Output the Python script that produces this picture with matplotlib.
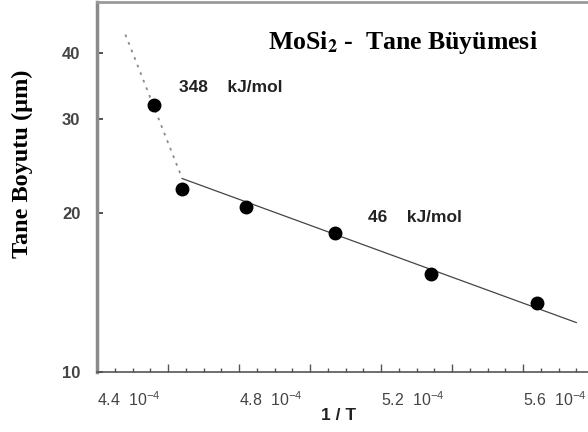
import matplotlib
matplotlib.use("Agg")
import matplotlib.pyplot as plt
from matplotlib.ticker import FixedLocator, NullLocator, MultipleLocator, FixedFormatter

plt.rcParams["mathtext.fontset"] = "custom"
plt.rcParams["mathtext.rm"] = "Liberation Sans"
plt.rcParams["mathtext.bf"] = "Liberation Sans:bold"

# 1/T values (x 10^-4) and grain size (µm)
inv_T = [4.56, 4.64, 4.82, 5.07, 5.34, 5.64]
grain_size = [31.9, 22.2, 20.5, 18.3, 15.3, 13.5]

# fitted segments: high-temperature (348 kJ/mol) and low-temperature (46 kJ/mol)
fit_hi_x = [4.48, 4.64]
fit_hi_y = [43.4, 23.2]
fit_lo_x = [4.64, 5.75]
fit_lo_y = [23.2, 12.4]

x_labels = {4.4: "4.4", 4.8: "4.8", 5.2: "5.2", 5.6: "5.6"}
y_ticks = [10, 20, 30, 40]

fig = plt.figure(figsize=(5.88, 4.32), dpi=100)
ax = fig.add_axes([97 / 588, 60 / 432, (594 - 97) / 588, 370 / 432])

ax.plot(fit_hi_x, fit_hi_y, color="#8a8a8a", lw=1.3, ls=(0, (1.5, 3.0)))
ax.plot(fit_lo_x, fit_lo_y, color="#444444", lw=0.9)
ax.plot(inv_T, grain_size, "o", color="black", ms=9, ls="none")

ax.set_yscale("log")
ax.set_xlim(4.4, 5.8)
ax.set_ylim(10, 50)

ax.yaxis.set_major_locator(FixedLocator(y_ticks))
ax.yaxis.set_minor_locator(NullLocator())
ax.yaxis.set_major_formatter(FixedFormatter([str(v) for v in y_ticks]))

major_x = [4.4 + 0.2 * i for i in range(8)]
ax.xaxis.set_major_locator(FixedLocator(major_x))
ax.xaxis.set_minor_locator(MultipleLocator(0.05))
labels = []
for v in major_x:
    key = round(v, 1)
    labels.append(x_labels[key] + "  10$^{-4}$" if key in x_labels else "")
ax.xaxis.set_major_formatter(FixedFormatter(labels))

ax.tick_params(axis="x", which="major", direction="in", length=6, width=1.0,
               color="#555555", pad=13, labelsize=11.5, labelcolor="#444444")
ax.tick_params(axis="x", which="minor", direction="in", length=3, width=1.0,
               color="#555555")
ax.tick_params(axis="y", which="major", direction="in", length=4, width=1.2,
               color="#333333", pad=12, labelsize=12, labelcolor="#444444")
for lab in ax.get_xticklabels():
    lab.set_horizontalalignment("left")
    lab.set_family("Liberation Sans")
for lab in ax.get_yticklabels():
    lab.set_family("Liberation Sans")
    lab.set_fontweight("bold")

ax.spines["right"].set_visible(False)
ax.spines["left"].set_color("#8a8a8a")
ax.spines["left"].set_linewidth(2.5)
ax.spines["top"].set_color("#9a9a9a")
ax.spines["top"].set_linewidth(2.0)
ax.spines["bottom"].set_color("#555555")
ax.spines["bottom"].set_linewidth(1.2)

fig.text(403 / 588, 1 - 43 / 432, r"MoSi$_\mathbf{2}$ -  Tane Büyümesi",
         family="Liberation Serif", fontweight="bold", fontsize=18.5,
         ha="center", va="center", math_fontfamily="stix")
fig.text(22 / 588, 1 - 164 / 432, "Tane Boyutu (µm)", rotation=90,
         family="Liberation Serif", fontweight="bold", fontsize=17.5,
         ha="center", va="center")
fig.text(179 / 588, 1 - 87 / 432, "348    kJ/mol", family="Liberation Sans",
         fontweight="bold", fontsize=12.5, color="#222222", ha="left", va="center")
fig.text(368 / 588, 1 - 218 / 432, "46    kJ/mol", family="Liberation Sans",
         fontweight="bold", fontsize=12.5, color="#222222", ha="left", va="center")
fig.text(339 / 588, 1 - 416 / 432, "1 / T", family="Liberation Sans",
         fontweight="bold", fontsize=12.5, color="#222222", ha="center", va="center")

fig.savefig("out.png", dpi=100)
